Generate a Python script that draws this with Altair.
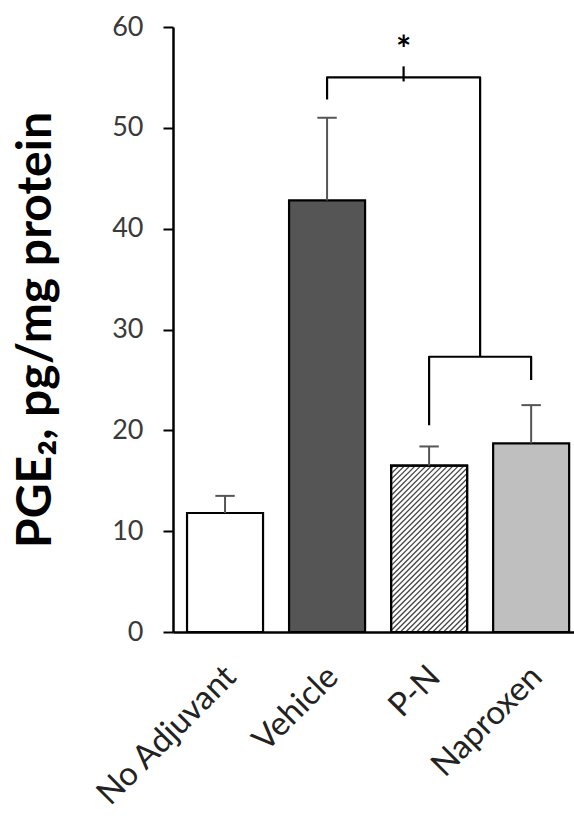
import altair as alt
import pandas as pd

# Group means and upper error limits (PGE2, pg/mg protein)
categories = ["No Adjuvant", "Vehicle", "P-N", "Naproxen"]
means = [11.8, 42.8, 16.5, 18.7]
upper = [13.5, 51.0, 18.4, 22.5]
fills = ["#ffffff", "#555555", "#ffffff", "#bfbfbf"]

# Significance bracket paths (x in group index units, y in data units)
bracket_top_x = [1.0, 1.0, 2.5, 2.5]
bracket_top_y = [52.8, 55.0, 55.0, 27.3]
bracket_low_x = [2.0, 2.0, 3.0, 3.0]
bracket_low_y = [20.5, 27.3, 27.3, 25.0]
mark_x = [1.75, 1.75]
mark_y = [54.6, 56.1]
star_x = 1.75
star_y = 57.6

W, H = 401, 605
XMIN, XMAX = -0.51, 3.42
HALF = 0.3725          # half bar width, index units
CAP = 0.095            # half error cap width, index units
px_x = W / (XMAX - XMIN)
px_y = H / 60.0

bars = pd.DataFrame({
    "idx": list(range(len(categories))),
    "cat": categories,
    "mean": means,
    "upper": upper,
    "fill": fills,
})
bars["x0"] = bars["idx"] - HALF
bars["x1"] = bars["idx"] + HALF
bars["c0"] = bars["idx"] - CAP
bars["c1"] = bars["idx"] + CAP

# Diagonal hatching for the P-N bar, clipped to the bar rectangle
hatch_rows = []
i = categories.index("P-N")
bw = 2 * HALF * px_x
bh = means[i] * px_y
step = 5.4
k = -bw + 2.0
while k < bh:
    xa = max(0.0, -k)
    xb = min(bw, bh - k)
    if xb > xa:
        hatch_rows.append({
            "hx": i - HALF + xa / px_x, "hy": (xa + k) / px_y,
            "hx2": i - HALF + xb / px_x, "hy2": (xb + k) / px_y,
        })
    k += step
hatch = pd.DataFrame(hatch_rows)

xscale = alt.Scale(domain=[XMIN, XMAX], nice=False, zero=False)
yscale = alt.Scale(domain=[0, 60], nice=False)

label_expr = ("datum.value == 0 ? 'No Adjuvant' : datum.value == 1 ? 'Vehicle' : "
              "datum.value == 2 ? 'P-N' : 'Naproxen'")

base = alt.Chart(bars)

rect = base.mark_rect(stroke="black", strokeWidth=2.2).encode(
    x=alt.X("x0:Q", scale=xscale, axis=alt.Axis(
        values=[0, 1, 2, 3], labelExpr=label_expr, title=None, ticks=False,
        grid=False, labelAngle=-45, labelAlign="right", labelBaseline="top",
        labelPadding=28, labelOffset=-6, labelFontSize=33, labelFont="Lato",
        labelColor="#222222", labelLimit=500, domainColor="black", domainWidth=2.5,
        labelOverlap=False)),
    x2="x1:Q",
    y=alt.Y("mean:Q", scale=yscale, axis=alt.Axis(
        values=[0, 10, 20, 30, 40, 50, 60], title="PGE₂, pg/mg protein",
        titleFont="Lato", titleFontSize=48, titleFontWeight="bold", titleColor="black",
        titleX=-137, titleBaseline="middle", titleAngle=-90,
        labelFont="Lato", labelFontSize=27, labelColor="#3a3a3a", labelPadding=20,
        tickSize=10, tickWidth=2, tickColor="black", domainColor="black",
        domainWidth=2.5, grid=False)),
    y2=alt.Y2(datum=0),
    fill=alt.Fill("fill:N", scale=None),
)

hatch_lines = alt.Chart(hatch).mark_rule(color="#444444", strokeWidth=1.3).encode(
    x=alt.X("hx:Q", scale=xscale), x2="hx2:Q",
    y=alt.Y("hy:Q", scale=yscale), y2="hy2:Q",
)

# redraw P-N outline on top of its hatching
outline = base.transform_filter(alt.datum.cat == "P-N").mark_rect(
    stroke="black", strokeWidth=2.2, fillOpacity=0).encode(
    x=alt.X("x0:Q", scale=xscale), x2="x1:Q",
    y=alt.Y("mean:Q", scale=yscale), y2=alt.Y2(datum=0),
)

stem = base.mark_rule(color="#555555", strokeWidth=2).encode(
    x=alt.X("idx:Q", scale=xscale),
    y=alt.Y("mean:Q", scale=yscale), y2="upper:Q",
)
cap = base.mark_rule(color="#555555", strokeWidth=2).encode(
    x=alt.X("c0:Q", scale=xscale), x2="c1:Q",
    y=alt.Y("upper:Q", scale=yscale),
)

def path(xs, ys):
    df = pd.DataFrame({"bx": xs, "by": ys, "order": list(range(len(xs)))})
    return alt.Chart(df).mark_line(color="black", strokeWidth=2.2,
                                   strokeJoin="round", strokeCap="butt").encode(
        x=alt.X("bx:Q", scale=xscale),
        y=alt.Y("by:Q", scale=yscale),
        order="order:Q",
    )

br_top = path(bracket_top_x, bracket_top_y)
br_low = path(bracket_low_x, bracket_low_y)
br_mark = path(mark_x, mark_y)

star = alt.Chart(pd.DataFrame({"sx": [star_x], "sy": [star_y], "t": ["*"]})).mark_text(
    fontSize=36, fontWeight="bold", font="Lato", color="black", baseline="middle").encode(
    x=alt.X("sx:Q", scale=xscale),
    y=alt.Y("sy:Q", scale=yscale), text="t:N")

chart = (
    alt.layer(rect, hatch_lines, outline, stem, cap, br_top, br_low, br_mark, star)
    .properties(
        width=W, height=H,
        autosize=alt.AutoSizeParams(type="none"),
        padding={"left": 173, "top": 27, "right": 0, "bottom": 191},
    )
    .configure(background="white")
    .configure_view(stroke=None)
    .configure_axis(grid=False)
)

chart.save("out.html", embed_options={"renderer": "svg", "actions": False})
